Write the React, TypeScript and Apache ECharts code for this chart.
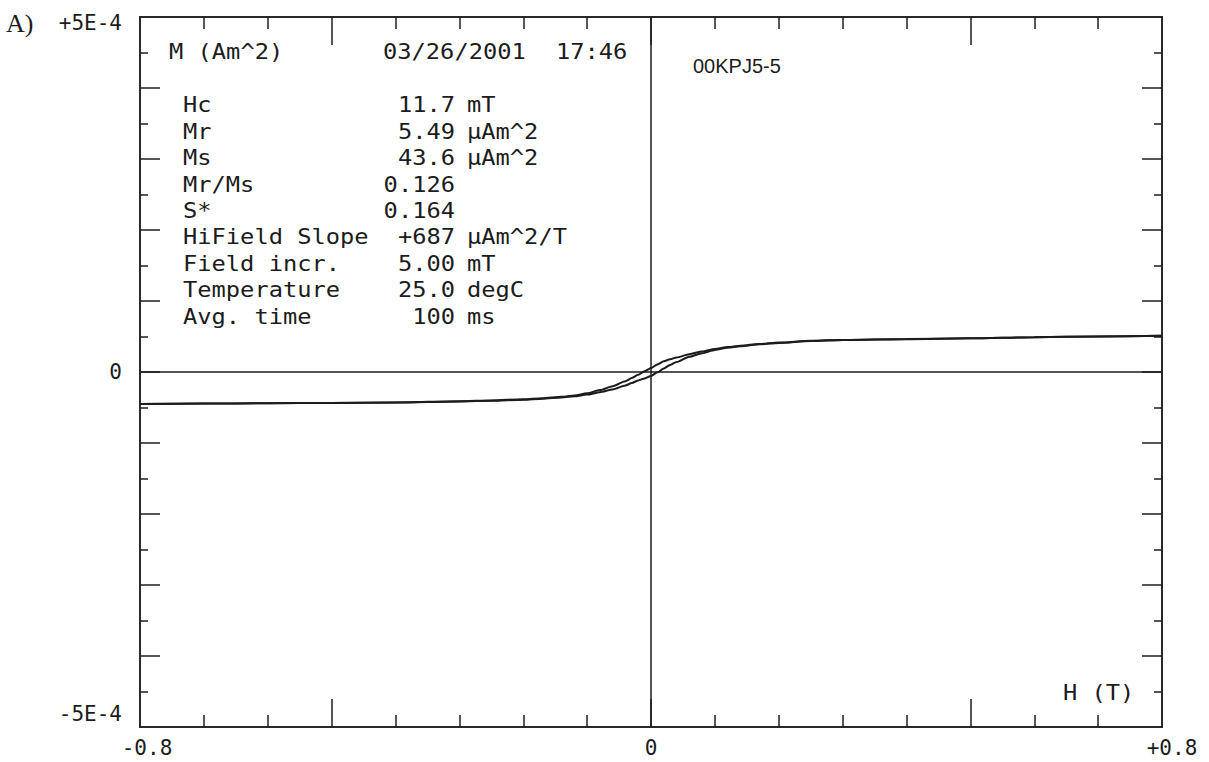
import React, { useEffect, useRef } from "react";
import * as echarts from "echarts";

// Applied field H (T)
const fieldT = [
  -0.8, -0.7, -0.6, -0.5, -0.4, -0.3, -0.25, -0.2, -0.17, -0.14, -0.12, -0.1, -0.08, -0.06, -0.04, -0.03, -0.02, -0.01, 0,
  0.01, 0.02, 0.03, 0.04, 0.06, 0.08, 0.1, 0.12, 0.14, 0.17, 0.2, 0.25, 0.3, 0.4, 0.5, 0.6, 0.7, 0.8,
];
// Moment M in units of 1E-4 Am^2, descending-field branch
const momentUpperE4 = [
  -0.45, -0.445, -0.44, -0.435, -0.428, -0.412, -0.4, -0.385, -0.37, -0.35, -0.33, -0.3, -0.255, -0.2, -0.13, -0.085, -0.04, 0.01, 0.055,
  0.105, 0.15, 0.18, 0.205, 0.25, 0.29, 0.325, 0.352, 0.37, 0.395, 0.415, 0.44, 0.452, 0.465, 0.475, 0.49, 0.5, 0.51,
];
// Moment M in units of 1E-4 Am^2, ascending-field branch
const momentLowerE4 = [
  -0.45, -0.445, -0.44, -0.435, -0.43, -0.415, -0.405, -0.39, -0.375, -0.358, -0.342, -0.318, -0.285, -0.245, -0.19, -0.155, -0.12, -0.09, -0.055,
  -0.005, 0.05, 0.1, 0.14, 0.215, 0.265, 0.31, 0.342, 0.362, 0.39, 0.41, 0.435, 0.45, 0.463, 0.475, 0.49, 0.5, 0.51,
];

const xLabelValues = [-0.8, 0, 0.8];
const xMinorTicks = [-0.7, -0.6, -0.4, -0.3, -0.2, -0.1, 0.1, 0.2, 0.3, 0.4, 0.6, 0.7];
const xMajorTicks = [-0.5, 0, 0.5];
const yLabelValues = [-5, 0, 5];
const yMinorTicks = [-4.5, -3.5, -2.5, -1.5, -0.5, 0.5, 1.5, 2.5, 3.5, 4.5];
const yMajorTicks = [-4, -3, -2, -1, 0, 1, 2, 3, 4];

const infoLabels = ["Hc", "Mr", "Ms", "Mr/Ms", "S*", "HiField Slope", "Field incr.", "Temperature", "Avg. time"];
const infoValues = ["11.7", "5.49", "43.6", "0.126", "0.164", "+687", "5.00", "25.0", "100"];
const infoUnits = ["mT", "µAm^2", "µAm^2", "", "", "µAm^2/T", "mT", "degC", "ms"];

const INK = "#1c1c1c";
const MONO = '"DejaVu Sans Mono", monospace';

function monoText(text: string, x: number, y: number, align: string = "left") {
  return {
    type: "text",
    x,
    y,
    scaleX: 1.13,
    silent: true,
    style: {
      text,
      fill: INK,
      fontFamily: MONO,
      fontSize: 21,
      align,
      verticalAlign: "middle",
    },
  };
}

export default function App() {
  const ref = useRef<HTMLDivElement>(null);

  useEffect(() => {
    if (!ref.current) return;
    const chart = echarts.init(ref.current, undefined, { renderer: "svg" });

    const lineStyle = { color: INK, width: 1.5 };
    const labelFont = { fontFamily: MONO, fontSize: 21, color: INK };

    const xBase = (position: string) => ({
      type: "value",
      min: -0.8,
      max: 0.8,
      position,
      splitLine: { show: false },
      axisLine: { show: true, onZero: false, lineStyle },
    });
    const yBase = (position: string) => ({
      type: "value",
      min: -5,
      max: 5,
      position,
      splitLine: { show: false },
      axisLine: { show: true, onZero: false, lineStyle },
    });

    const graphics: any[] = [];
    graphics.push({
      type: "text",
      x: 6,
      y: 23,
      silent: true,
      style: {
        text: "A)",
        fill: INK,
        fontFamily: '"Liberation Serif", serif',
        fontSize: 26,
        align: "left",
        verticalAlign: "middle",
      },
    });
    graphics.push(monoText("M (Am^2)", 169, 52));
    graphics.push(monoText("03/26/2001", 383, 52));
    graphics.push(monoText("17:46", 556, 52));
    graphics.push({
      type: "text",
      x: 693,
      y: 66,
      silent: true,
      style: {
        text: "00KPJ5-5",
        fill: INK,
        fontFamily: '"Liberation Sans", Arial, sans-serif',
        fontSize: 20,
        align: "left",
        verticalAlign: "middle",
      },
    });
    infoLabels.forEach((lab, i) => {
      const y = 105 + i * 26.4;
      graphics.push(monoText(lab, 183, y, "left"));
      graphics.push(monoText(infoValues[i], 455, y, "right"));
      if (infoUnits[i]) graphics.push(monoText(infoUnits[i], 467, y, "left"));
    });
    graphics.push(monoText("H (T)", 1063, 693));

    const option: any = {
      animation: false,
      backgroundColor: "#ffffff",
      grid: { left: 140, right: 47, top: 17, bottom: 35, show: false, containLabel: false },
      xAxis: [
        {
          ...xBase("bottom"),
          axisTick: { show: true, inside: true, length: 12, customValues: xMinorTicks, lineStyle },
          axisLabel: {
            show: true,
            customValues: xLabelValues,
            margin: 10,
            ...labelFont,
            formatter: (v: number) => {
              if (v > 0) return "{r|+" + v + "}";
              if (v < 0) return "{l|" + v + "}";
              return "{c|0}";
            },
            rich: {
              r: { ...labelFont, padding: [0, 0, 0, 20] },
              l: { ...labelFont, padding: [0, 0, 0, 14] },
              c: { ...labelFont },
            },
          },
        },
        {
          ...xBase("bottom"),
          axisTick: { show: true, inside: true, length: 28, customValues: xMajorTicks, lineStyle },
          axisLabel: { show: false },
        },
        {
          ...xBase("top"),
          axisTick: { show: true, inside: true, length: 12, customValues: xMinorTicks, lineStyle },
          axisLabel: { show: false },
        },
        {
          ...xBase("top"),
          axisTick: { show: true, inside: true, length: 28, customValues: xMajorTicks, lineStyle },
          axisLabel: { show: false },
        },
      ],
      yAxis: [
        {
          ...yBase("left"),
          axisTick: { show: true, inside: true, length: 8, customValues: yMinorTicks, lineStyle },
          axisLabel: {
            show: true,
            customValues: yLabelValues,
            margin: 18,
            ...labelFont,
            formatter: (v: number) => {
              if (v > 0) return "{t|+" + v + "E-4}";
              if (v < 0) return "{b|" + v + "E-4}";
              return "{z|0}";
            },
            rich: {
              t: { ...labelFont, padding: [12, 0, 0, 0] },
              b: { ...labelFont, padding: [0, 0, 26, 0] },
              z: { ...labelFont },
            },
          },
        },
        {
          ...yBase("left"),
          axisTick: { show: true, inside: true, length: 20, customValues: yMajorTicks, lineStyle },
          axisLabel: { show: false },
        },
        {
          ...yBase("right"),
          axisTick: { show: true, inside: true, length: 8, customValues: yMinorTicks, lineStyle },
          axisLabel: { show: false },
        },
        {
          ...yBase("right"),
          axisTick: { show: true, inside: true, length: 20, customValues: yMajorTicks, lineStyle },
          axisLabel: { show: false },
        },
      ],
      series: [
        {
          type: "line",
          name: "descending",
          xAxisIndex: 0,
          yAxisIndex: 0,
          data: fieldT.map((h, i) => [h, momentUpperE4[i]]),
          showSymbol: false,
          symbol: "none",
          smooth: 0.25,
          smoothMonotone: "x",
          lineStyle: { color: INK, width: 2 },
          markLine: {
            silent: true,
            symbol: "none",
            label: { show: false },
            lineStyle: { color: INK, width: 1.5, type: "solid" },
            data: [{ xAxis: 0 }, { yAxis: 0 }],
          },
        },
        {
          type: "line",
          name: "ascending",
          xAxisIndex: 0,
          yAxisIndex: 0,
          data: fieldT.map((h, i) => [h, momentLowerE4[i]]),
          showSymbol: false,
          symbol: "none",
          smooth: 0.25,
          smoothMonotone: "x",
          lineStyle: { color: INK, width: 2 },
        },
      ],
      graphic: graphics,
    };

    chart.setOption(option);
    return () => chart.dispose();
  }, []);

  return (
    <div
      ref={ref}
      style={{ position: "absolute", left: 0, top: 0, width: 1209, height: 762, background: "#ffffff" }}
    />
  );
}
